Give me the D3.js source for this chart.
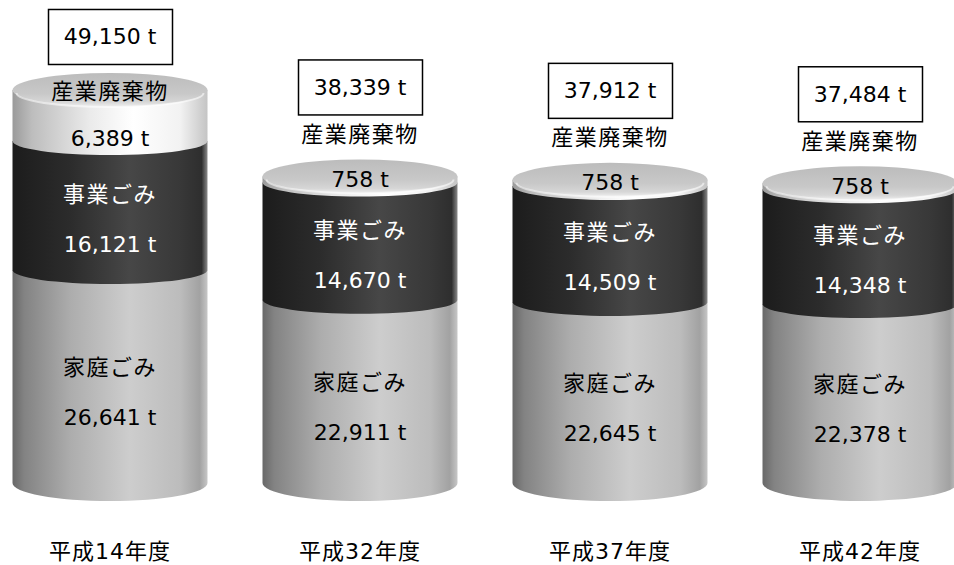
<!DOCTYPE html>
<html>
<head>
<meta charset="utf-8">
<script src="https://cdn.jsdelivr.net/npm/d3@7"></script>
<style>
  html, body { margin: 0; padding: 0; background: #fff; }
  svg { display: block; }
  text { font-family: "DejaVu Sans", "Noto Sans CJK JP", sans-serif; }
</style>
</head>
<body>
<svg id="chart" width="954" height="565"></svg>
<script>
// ---- data ----
const categories = ["平成14年度", "平成32年度", "平成37年度", "平成42年度"];
const seriesNames = ["家庭ごみ", "事業ごみ", "産業廃棄物"];
const household = [26641, 22911, 22645, 22378];
const business = [16121, 14670, 14509, 14348];
const industrial = [6389, 758, 758, 758];
const totals = [49150, 38339, 37912, 37484];
const valueLabels = [
  ["26,641 t", "16,121 t", "6,389 t"],
  ["22,911 t", "14,670 t", "758 t"],
  ["22,645 t", "14,509 t", "758 t"],
  ["22,378 t", "14,348 t", "758 t"]
];
const totalLabels = ["49,150 t", "38,339 t", "37,912 t", "37,484 t"];

// ---- layout ----
const svg = d3.select("#chart");
const x = d3.scalePoint().domain(categories).range([110, 860]);
const y = d3.scaleLinear().domain([0, 49150]).range([483, 90]);
const barW = 195, rx = barW / 2;
const ryCap = 17, ryIn = 14, ryBottom = 18;
const fontSize = 22;

const defs = svg.append("defs");
function hGrad(id, stops) {
  const g = defs.append("linearGradient").attr("id", id)
    .attr("x1", "0").attr("x2", "1").attr("y1", "0").attr("y2", "0");
  stops.forEach(([o, c]) => g.append("stop").attr("offset", o).attr("stop-color", c));
}
hGrad("gLight", [[0, "#686868"], [0.06, "#838383"], [0.3, "#adadad"], [0.6, "#cdcdcd"], [0.86, "#bcbcbc"], [0.96, "#a2a2a2"], [1, "#c6c6c6"]]);
hGrad("gDark", [[0, "#1c1c1c"], [0.3, "#2c2c2c"], [0.6, "#474747"], [0.86, "#383838"], [0.97, "#2e2e2e"], [1, "#8a8a8a"]]);
hGrad("gWhite", [[0, "#9a9a9a"], [0.1, "#bdbdbd"], [0.4, "#ebebeb"], [0.62, "#ffffff"], [0.86, "#f2f2f2"], [1, "#c4c4c4"]]);
const capG = defs.append("linearGradient").attr("id", "gCap")
  .attr("x1", "0").attr("x2", "0").attr("y1", "0").attr("y2", "1");
[[0, "#bcbcbc"], [0.6, "#c8c8c8"], [0.85, "#d6d6d6"], [1, "#f0f0f0"]]
  .forEach(([o, c]) => capG.append("stop").attr("offset", o).attr("stop-color", c));

const fills = ["url(#gLight)", "url(#gDark)", "url(#gWhite)"];
const textColors = ["#000", "#fff", "#000"];

function label(g, cx, yy, txt, color, spacing) {
  g.append("text").attr("x", cx).attr("y", yy)
    .attr("text-anchor", "middle").attr("dominant-baseline", "central")
    .attr("font-size", fontSize).attr("letter-spacing", spacing || 0)
    .attr("fill", color).text(txt);
}

categories.forEach((cat, i) => {
  const cx = x(cat);
  const l = cx - rx, r = cx + rx;
  const vals = [household[i], business[i], industrial[i]];
  const g = svg.append("g");
  let acc = 0;
  const segs = vals.map((v, k) => {
    const s = { k, v0: acc, v1: acc + v };
    acc += v;
    return s;
  });
  const yTop = y(acc);

  segs.forEach(s => {
    const y0 = y(s.v0), y1 = y(s.v1);
    const ry = s.k === 0 ? ryBottom : ryIn;
    const p = `M${l},${y1} L${l},${y0} A${rx},${ry} 0 0 0 ${r},${y0} L${r},${y1} Z`;
    g.append("path").attr("d", p).attr("fill", fills[s.k]);
  });
  // top cap
  g.append("ellipse").attr("cx", cx).attr("cy", yTop).attr("rx", rx).attr("ry", ryCap)
    .attr("fill", "url(#gCap)");
  g.append("path")
    .attr("d", `M${l + 4},${yTop + 3} A${rx - 4},${ryCap - 3} 0 0 0 ${r - 4},${yTop + 3}`)
    .attr("fill", "none").attr("stroke", "#ffffff").attr("stroke-opacity", 0.55).attr("stroke-width", 2);

  // segment labels
  segs.forEach(s => {
    const y0 = y(s.v0), y1 = y(s.v1);
    const visBottom = y0 + (s.k === 0 ? ryBottom : ryIn);
    const hgt = y0 - y1;
    if (s.k < 2) {
      const visTop = Math.max(y1 + ryIn, yTop + ryCap);
      const mid = (visTop + visBottom) / 2;
      label(g, cx, mid - 25, seriesNames[s.k], textColors[s.k], 1.5);
      label(g, cx, mid + 25, valueLabels[i][s.k], textColors[s.k], 0);
    } else {
      let boxC;
      if (hgt > 30) {
        const visTop = yTop - ryCap;
        const mid = (visTop + visBottom) / 2;
        label(g, cx, mid - 23, seriesNames[2], "#000", 1.5);
        label(g, cx, mid + 24, valueLabels[i][2], "#000", 0);
        boxC = yTop - 53;
      } else {
        label(g, cx, yTop + 3, valueLabels[i][2], "#000", 0);
        label(g, cx, yTop - 42, seriesNames[2], "#000", 1.5);
        boxC = yTop - 89;
      }
      const bw = 124, bh = 55;
      g.append("rect").attr("x", cx - bw / 2 + 0.5).attr("y", boxC - bh / 2)
        .attr("width", bw).attr("height", bh)
        .attr("fill", "#fff").attr("stroke", "#000").attr("stroke-width", 1.5);
      label(g, cx, boxC, totalLabels[i], "#000", 0);
    }
  });

  // category label
  label(svg, cx, 551, cat, "#000", 1);
});
</script>
</body>
</html>
